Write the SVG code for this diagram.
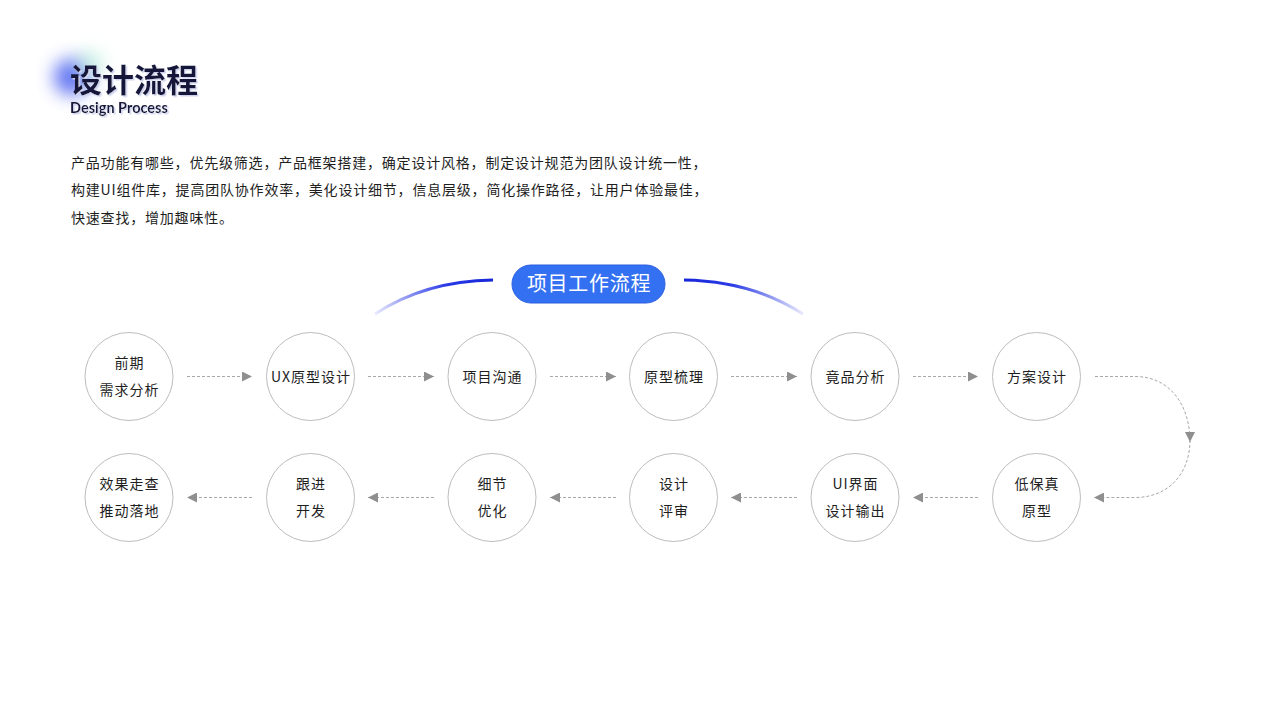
<svg xmlns="http://www.w3.org/2000/svg" width="1280" height="720" viewBox="0 0 1280 720">
<defs>
<style>
.cn{font-family:"Noto Sans CJK SC","Noto Sans",sans-serif;}
.node circle{fill:#fff;stroke:#bdbdbd;stroke-width:1;}
.node text{font-family:"Noto Sans CJK SC","Noto Sans",sans-serif;font-size:14px;fill:#1e1e1e;text-anchor:middle;letter-spacing:1px;}
.conn path{fill:none;stroke:#a8a8a8;stroke-width:1;stroke-dasharray:3 2;}
.para{font-family:"Noto Sans CJK SC","Noto Sans",sans-serif;font-size:14px;fill:#1e1e1e;letter-spacing:0.8px;}
</style>
<marker id="ah" viewBox="0 0 10 10" refX="10" refY="5" markerWidth="10" markerHeight="10" markerUnits="userSpaceOnUse" orient="auto">
<path d="M0,0 L10,5 L0,10 Z" fill="#8f8f8f"/>
</marker>
<linearGradient id="gl" x1="375" y1="0" x2="493" y2="0" gradientUnits="userSpaceOnUse">
<stop offset="0" stop-color="#1f2fe0" stop-opacity="0.1"/>
<stop offset="0.6" stop-color="#2a3be6"/>
<stop offset="1" stop-color="#1626d8"/>
</linearGradient>
<linearGradient id="gr" x1="684" y1="0" x2="803" y2="0" gradientUnits="userSpaceOnUse">
<stop offset="0" stop-color="#1626d8"/>
<stop offset="0.4" stop-color="#2a3be6"/>
<stop offset="1" stop-color="#1f2fe0" stop-opacity="0.1"/>
</linearGradient>
<filter id="blur" x="-1" y="-1" width="3" height="3"><feGaussianBlur stdDeviation="9"/></filter>
<filter id="shadow" x="-0.1" y="-0.2" width="1.2" height="1.4"><feDropShadow dx="1.5" dy="1.5" stdDeviation="0.3" flood-color="#cfd3ee" flood-opacity="1"/></filter>
</defs>
<rect width="1280" height="720" fill="#fff"/>

<g id="title">
<circle cx="72" cy="77" r="18" fill="#4f63f0" filter="url(#blur)" opacity="0.9"/>
<circle cx="90" cy="64" r="13" fill="#b8f0d8" filter="url(#blur)" opacity="0.7"/>
<text x="70" y="92" class="cn" font-size="32" font-weight="700" fill="#17193a" filter="url(#shadow)">设计流程</text>
<text x="70" y="113" font-family="Lato,'Noto Sans',sans-serif" font-size="14.5" font-weight="700" fill="#17193a" filter="url(#shadow)">Design Process</text>
</g>

<g id="intro" class="para">
<text x="71" y="168">产品功能有哪些，优先级筛选，产品框架搭建，确定设计风格，制定设计规范为团队设计统一性，</text>
<text x="71" y="195">构建UI组件库，提高团队协作效率，美化设计细节，信息层级，简化操作路径，让用户体验最佳，</text>
<text x="71" y="223">快速查找，增加趣味性。</text>
</g>

<g id="header">
<path d="M375,314 Q425,281 493,280" fill="none" stroke="url(#gl)" stroke-width="3"/>
<path d="M684,280 Q752,281 803,314" fill="none" stroke="url(#gr)" stroke-width="3"/>
<rect x="512" y="265" width="153" height="38" rx="19" fill="#3370f2" stroke="#2a5fe0" stroke-width="1"/>
<text x="589" y="291" class="cn" font-size="20" letter-spacing="0.7" fill="#fff" text-anchor="middle">项目工作流程</text>
</g>

<g class="conn" id="connectors">
<path d="M187,376.5 H252" marker-end="url(#ah)"/>
<path d="M368,376.5 H434" marker-end="url(#ah)"/>
<path d="M550,376.5 H616" marker-end="url(#ah)"/>
<path d="M731,376.5 H797" marker-end="url(#ah)"/>
<path d="M913,376.5 H978" marker-end="url(#ah)"/>
<path d="M1095,376.5 H1135 C1170,376.5 1190,405 1190,442" marker-end="url(#ah)"/>
<path d="M1190,440 C1190,472 1170,497.5 1135,497.5 H1094" marker-end="url(#ah)"/>
<path d="M978,497.5 H913" marker-end="url(#ah)"/>
<path d="M797,497.5 H731" marker-end="url(#ah)"/>
<path d="M616,497.5 H550" marker-end="url(#ah)"/>
<path d="M434,497.5 H368" marker-end="url(#ah)"/>
<path d="M252,497.5 H187" marker-end="url(#ah)"/>
</g>

<g id="n1" class="node"><circle cx="129" cy="376.5" r="44"/><text x="129.5" y="368">前期</text><text x="129.5" y="395">需求分析</text></g>
<g id="n2" class="node"><circle cx="310.5" cy="376.5" r="44"/><text x="311" y="381.5">UX原型设计</text></g>
<g id="n3" class="node"><circle cx="492" cy="376.5" r="44"/><text x="492.5" y="381.5">项目沟通</text></g>
<g id="n4" class="node"><circle cx="673.5" cy="376.5" r="44"/><text x="674" y="381.5">原型梳理</text></g>
<g id="n5" class="node"><circle cx="855" cy="376.5" r="44"/><text x="855.5" y="381.5">竟品分析</text></g>
<g id="n6" class="node"><circle cx="1036.5" cy="376.5" r="44"/><text x="1037" y="381.5">方案设计</text></g>
<g id="n7" class="node"><circle cx="1036.5" cy="497.5" r="44"/><text x="1037" y="489">低保真</text><text x="1037" y="516">原型</text></g>
<g id="n8" class="node"><circle cx="855" cy="497.5" r="44"/><text x="855.5" y="489">UI界面</text><text x="855.5" y="516">设计输出</text></g>
<g id="n9" class="node"><circle cx="673.5" cy="497.5" r="44"/><text x="674" y="489">设计</text><text x="674" y="516">评审</text></g>
<g id="n10" class="node"><circle cx="492" cy="497.5" r="44"/><text x="492.5" y="489">细节</text><text x="492.5" y="516">优化</text></g>
<g id="n11" class="node"><circle cx="310.5" cy="497.5" r="44"/><text x="311" y="489">跟进</text><text x="311" y="516">开发</text></g>
<g id="n12" class="node"><circle cx="129" cy="497.5" r="44"/><text x="129.5" y="489">效果走查</text><text x="129.5" y="516">推动落地</text></g>
</svg>
